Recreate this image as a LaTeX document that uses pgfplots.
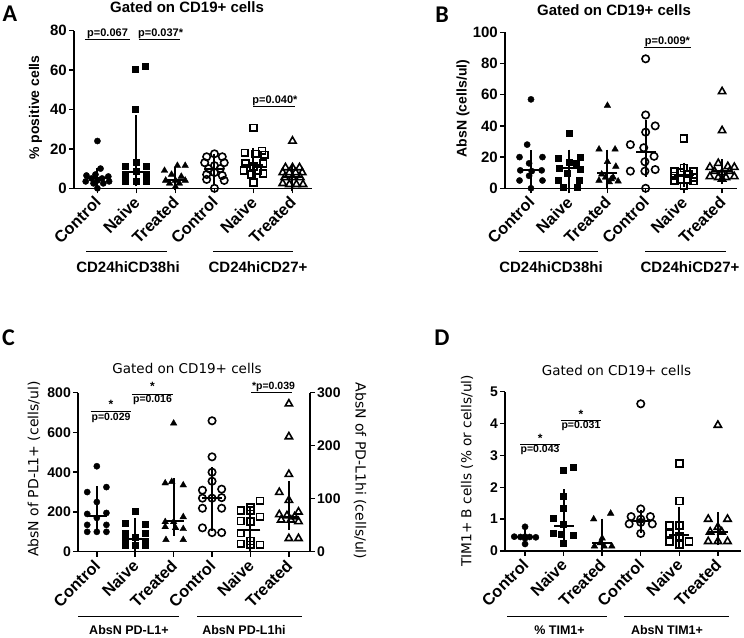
\documentclass[border=0pt]{standalone}
\usepackage{pgfplots}
\pgfplotsset{compat=1.18}
\usepackage{fontspec}
\setmainfont{Liberation Sans}
\newfontfamily\dejavu{DejaVu Sans}
\newfontfamily\carlito{Carlito}
\newcommand{\fsz}[1]{\fontsize{#1}{#1}\selectfont}

\pgfplotsset{
  gp/.style={
    scale only axis,
    anchor=south west,
    axis x line*=bottom,
    axis y line*=left,
    axis line style={-, line width=1.5pt},
    tick align=outside,
    major tick length=5pt,
    tick style={line width=1.5pt, black},
    xtick={0,...,5},
    xticklabels={Control,Naive,Treated,Control,Naive,Treated},
    xticklabel style={xshift=1.2pt, yshift=-5.4pt, rotate=45, anchor=east, font=\bfseries\fsz{16.3}, inner sep=1pt},
    yticklabel style={font=\bfseries\fsz{15}, inner sep=2pt},
    /pgf/number format/assume math mode=true,
    clip=false,
  },
  mFC/.style={only marks, mark=*, mark size=3.1pt, black},
  mFS/.style={only marks, mark=square*, mark size=3pt, black},
  mFT/.style={only marks, mark=triangle*, mark size=3.8pt, black},
  mOC/.style={only marks, mark=o, mark size=3.7pt, black, mark options={line width=1.6pt}},
  mOS/.style={only marks, mark=square, mark size=3.4pt, black, mark options={line width=1.6pt}},
  mOT/.style={only marks, mark=triangle, mark size=4.2pt, black, mark options={line width=1.6pt}},
  med/.style={only marks, black, mark=-, mark size=10pt, mark options={line width=2pt},
    error bars/.cd, y dir=both, y explicit,
    error bar style={line width=2pt, black},
    error mark=-, error mark options={line width=2pt, mark size=7pt, black}},
}

\begin{document}
\begin{tikzpicture}[x=1pt,y=1pt]

%================ Panel A ================
\begin{axis}[gp, at={(74pt,448.7pt)}, width=238pt, height=157.6pt,
  xmin=-0.6, xmax=5.5, ymin=0, ymax=80, ytick={0,20,40,60,80}]
\addplot[mFC] coordinates {(0,24) (0.08,10) (-0.05,7) (-0.28,6.5) (0.28,6) (-0.15,5) (0.12,5) (-0.3,3.5) (0,4) (0.3,3.5) (-0.1,2.5) (0.15,2.5) (0,0)};
\addplot[mFS] coordinates {(1.22,62) (0.98,60.5) (0.98,40) (1,13) (0.72,11) (1.25,11) (1.0,8.5) (0.72,7) (1.25,7) (0.72,3.5) (1.0,3.5) (1.25,3.5)};
\addplot[mFT] coordinates {(2.05,11.5) (2.25,11.5) (1.72,9) (1.9,7) (2.15,6) (1.75,4) (2.0,4) (2.25,4) (1.85,2.5) (2.1,2.5) (2.0,0.8)};
\addplot[mOC] coordinates {(3.0,17.5) (2.8,16) (3.2,16) (2.75,13) (3.25,13) (3.0,11.5) (2.85,10) (3.15,10) (3.0,8) (2.8,7) (3.2,6.5) (2.8,4.5) (3.25,4) (3.0,0)};
\addplot[mOS] coordinates {(4.0,30.7) (4.22,19) (3.78,18) (4.05,17.5) (4.28,17) (3.8,12.5) (4.25,12.5) (4.0,11) (3.75,9) (4.1,9) (4.25,7.5) (3.95,7) (4.0,3)};
\addplot[mOT] coordinates {(5.0,24) (4.82,10.5) (5.0,10.5) (5.18,10.5) (4.75,8) (4.92,8) (5.08,8) (5.25,8) (4.8,5.5) (5.0,5.5) (5.2,5.5) (4.75,2.5) (4.92,2) (5.1,2) (5.27,2)};
\addplot[med] coordinates {(0,5) += (0,2) -= (0,1.5) (1,8.5) += (0,25) -= (0,4) (2,4.2) += (0,3.3) -= (0,1.7) (3,10) += (0,4) -= (0,4.5) (4,12) += (0,5) -= (0,4) (5,5.5) += (0,3.5) -= (0,3.5)};
\draw[line width=1pt] (axis cs:-0.32,75.6) -- (axis cs:0.84,75.6);
\node[anchor=south, inner sep=0.5pt, font=\bfseries\fsz{11}] at (axis cs:0.26,75.6) {p=0.067};
\draw[line width=1pt] (axis cs:1.07,75.6) -- (axis cs:2.12,75.6);
\node[anchor=south, inner sep=0.5pt, font=\bfseries\fsz{11}] at (axis cs:1.62,75.6) {p=0.037*};
\draw[line width=1pt] (axis cs:3.99,41.3) -- (axis cs:5.07,41.3);
\node[anchor=south, inner sep=0.5pt, font=\bfseries\fsz{11}] at (axis cs:4.55,41.3) {p=0.040*};
\end{axis}

%================ Panel B ================
\begin{axis}[gp, at={(505pt,448.7pt)}, width=232pt, height=156pt,
  xmin=-0.68, xmax=5.39, ymin=0, ymax=100, ytick={0,20,40,60,80,100}]
\addplot[mFC] coordinates {(0,57) (-0.1,28) (-0.3,20) (0.3,20) (-0.05,16) (-0.28,11.5) (0.28,11.5) (0.02,11) (-0.05,8) (-0.3,5) (0.3,5) (0,0)};
\addplot[mFS] coordinates {(1.0,35) (0.72,19) (1.3,20) (1.0,17) (1.18,16) (0.75,13) (1.28,12.5) (0.95,9.5) (0.7,5.5) (1.25,5.5) (0.85,1) (1.22,1)};
\addplot[mFT] coordinates {(2.0,53) (1.78,25) (2.2,25) (2.0,17) (2.22,14) (1.85,9) (1.95,7) (2.15,7) (1.78,5) (2.28,4.5) (2.05,4) (2.1,6)};
\addplot[mOC] coordinates {(3.0,83) (3.0,47) (3.25,40) (3.0,36) (2.6,28) (2.95,26) (3.22,20.5) (2.98,17) (2.6,11) (2.98,11) (3.25,12) (3.0,0)};
\addplot[mOS] coordinates {(4.0,32) (4.0,13) (3.75,11) (4.25,11) (3.9,10) (4.12,9) (3.75,8) (4.25,7) (3.9,5.5) (4.1,5.5) (4.25,4.5) (3.75,5) (4.0,1.5)};
\addplot[mOT] coordinates {(5.0,62) (5.0,37) (4.9,16) (4.68,13.5) (5.32,13.5) (5.15,14) (4.8,11) (5.2,11) (5.0,10) (4.68,7.5) (4.9,7) (5.1,7) (5.32,7.5) (5.0,6)};
\addplot[med] coordinates {(0,11.8) += (0,8.1) -= (0,6.5) (1,12.8) += (0,7.5) -= (0,8.1) (2,9.6) += (0,10.7) -= (0,5.3) (3,23) += (0,16) -= (0,11.2) (4,8.5) += (0,3.5) -= (0,3.5) (5,11.3) += (0,2.7) -= (0,4.3)};
\draw[line width=1pt] (axis cs:2.96,90.1) -- (axis cs:4.19,90.1);
\node[anchor=south, inner sep=0.5pt, font=\bfseries\fsz{11}] at (axis cs:3.57,90.1) {p=0.009*};
\end{axis}

%================ Panel C ================
\begin{axis}[gp, at={(78pt,85.3pt)}, width=232pt, height=159pt,
  xmin=-0.49, xmax=5.55, ymin=0, ymax=800, ytick={0,200,400,600,800},
  yticklabel style={font=\bfseries\fsz{14}}]
\addplot[mFC] coordinates {(0,430) (-0.25,300) (0.25,325) (0.0,250) (-0.25,190) (0.25,195) (0.0,170) (-0.25,135) (0.25,135) (-0.25,100) (0.0,100) (0.25,100)};
\addplot[mFS] coordinates {(1.0,206) (0.75,145) (1.25,140) (0.75,95) (1.25,95) (1.0,75) (0.75,60) (1.25,55) (0.75,35) (1.0,35) (1.25,35)};
\addplot[mFT] coordinates {(2.0,646) (1.78,345) (1.95,352) (2.25,335) (2.25,175) (1.78,150) (2.0,150) (1.78,125) (2.05,120) (2.25,115) (1.8,60) (2.25,60)};
\addplot[med] coordinates {(0,180) += (0,115) -= (0,50) (1,65) += (0,70) -= (0,30) (2,155) += (0,180) -= (0,40)};
\draw[line width=1pt] (axis cs:-0.16,704) -- (axis cs:0.9,704);
\node[font=\bfseries\fsz{12}] at (axis cs:0.37,740) {*};
\node[anchor=north, inner sep=1pt, font=\bfseries\fsz{10.5}] at (axis cs:0.37,704) {p=0.029};
\draw[line width=1pt] (axis cs:0.91,793) -- (axis cs:1.98,793);
\node[font=\bfseries\fsz{12}] at (axis cs:1.45,830) {*};
\node[anchor=north, inner sep=1pt, font=\bfseries\fsz{10.5}] at (axis cs:1.45,793) {p=0.016};
\end{axis}
\begin{axis}[gp, at={(78pt,85.3pt)}, width=232pt, height=159pt,
  axis x line=none, axis y line*=right,
  xmin=-0.49, xmax=5.55, ymin=0, ymax=300, ytick={0,100,200,300},
  yticklabel style={font=\bfseries\fsz{14}}]
\addplot[mOC] coordinates {(3.0,247) (3.0,179) (3.0,150) (3.0,133) (2.75,116) (3.25,118) (2.75,101) (3.0,101) (3.25,102) (2.75,82) (3.25,82) (2.75,45) (3.0,36) (3.25,36)};
\addplot[mOS] coordinates {(4.25,96) (3.75,78) (4.0,84) (4.0,78) (4.25,66) (3.75,58) (4.0,57) (3.75,35) (3.75,15) (4.0,20) (4.0,13) (4.25,13)};
\addplot[mOT] coordinates {(5.0,279) (5.0,217) (5.0,146) (4.75,112) (5.0,97) (5.25,75) (4.75,70) (4.95,68) (5.15,66) (4.8,60) (5.05,60) (5.25,57) (5.0,25) (5.25,25)};
\addplot[med] coordinates {(3,101) += (0,46) -= (0,49) (4,40) += (0,33) -= (0,25) (5,65) += (0,55) -= (0,10)};
\draw[line width=1pt] (axis cs:4.02,300) -- (axis cs:5.09,300);
\node[anchor=south, inner sep=0.5pt, font=\bfseries\fsz{10.5}] at (axis cs:4.6,300) {*p=0.039};
\end{axis}

%================ Panel D ================
\begin{axis}[gp, at={(505pt,86pt)}, width=236pt, height=159.3pt,
  xmin=-0.52, xmax=5.6, ymin=0, ymax=5, ytick={0,1,2,3,4,5},
  yticklabel style={font=\bfseries\fsz{14}}]
\addplot[mFC] coordinates {(0,0.76) (-0.28,0.45) (-0.12,0.44) (0.0,0.45) (0.12,0.44) (0.28,0.43) (0.0,0.4) (0.0,0.22)};
\addplot[mFS] coordinates {(1.0,2.54) (1.25,2.62) (1.0,1.72) (1.0,1.34) (0.72,1.02) (1.0,0.85) (0.72,0.55) (0.95,0.52) (1.25,0.5) (1.0,0.26)};
\addplot[mFT] coordinates {(2.22,1.18) (1.78,1.0) (2.0,0.4) (1.95,0.25) (1.8,0.15) (2.05,0.15) (2.25,0.15)};
\addplot[mOC] coordinates {(3.0,4.62) (3.0,1.32) (2.75,1.08) (3.0,1.0) (3.25,1.08) (2.7,0.85) (3.0,0.9) (3.3,0.85) (3.0,0.55)};
\addplot[mOS] coordinates {(4.0,2.75) (4.0,1.57) (3.75,0.8) (4.0,0.8) (3.75,0.55) (4.0,0.45) (3.75,0.3) (4.0,0.2) (4.25,0.3)};
\addplot[mOT] coordinates {(5.0,3.95) (4.75,1.0) (5.25,1.0) (5.0,0.75) (4.8,0.6) (5.1,0.6) (4.75,0.3) (5.0,0.3) (5.25,0.3)};
\addplot[med] coordinates {(0,0.43) += (0,0.03) -= (0,0.03) (1,0.78) += (0,0.94) -= (0,0.28) (2,0.25) += (0,0.55) -= (0,0.1) (3,0.95) += (0,0.13) -= (0,0.15) (4,0.5) += (0,0.67) -= (0,0.15) (5,0.6) += (0,0.4) -= (0,0.2)};
\draw[line width=1pt] (axis cs:-0.13,3.35) -- (axis cs:0.91,3.35);
\node[font=\bfseries\fsz{12}] at (axis cs:0.39,3.55) {*};
\node[anchor=north, inner sep=1pt, font=\bfseries\fsz{10.5}] at (axis cs:0.39,3.35) {p=0.043};
\draw[line width=1pt] (axis cs:0.93,4.1) -- (axis cs:1.97,4.1);
\node[font=\bfseries\fsz{12}] at (axis cs:1.45,4.3) {*};
\node[anchor=north, inner sep=1pt, font=\bfseries\fsz{10.5}] at (axis cs:1.45,4.1) {p=0.031};
\end{axis}

%================ Texts ================
\node[font=\carlito\bfseries\fsz{24}] at (10,623) {A};
\node[font=\carlito\bfseries\fsz{24}] at (442,622) {B};
\node[font=\carlito\bfseries\fsz{24}] at (8.5,299) {C};
\node[font=\carlito\bfseries\fsz{24}] at (442,299) {D};

\node[font=\bfseries\fsz{15}] at (187,629.5) {Gated on CD19+ cells};
\node[font=\bfseries\fsz{15}] at (614,627) {Gated on CD19+ cells};
\node[font=\dejavu\fsz{13.5}] at (187,269) {Gated on CD19+ cells};
\node[font=\dejavu\fsz{13.5}] at (616.5,267) {Gated on CD19+ cells};

\node[rotate=90, font=\bfseries\fsz{14}] at (35.5,529.5) {\% positive cells};
\node[rotate=90, font=\bfseries\fsz{14}] at (463,528.5) {AbsN (cells/ul)};
\node[rotate=90, font=\dejavu\fsz{14}] at (34,168) {AbsN of PD-L1+ (cells/ul)};
\node[rotate=-90, font=\dejavu\fsz{14}] at (360,166) {AbsN of PD-L1hi (cells/ul)};
\node[rotate=90, font=\dejavu\fsz{13.7}] at (467,166) {TIM1+ B cells (\% or cells/ul)};

\draw[line width=1pt] (86,385) -- (167,385) (213,385) -- (293,385);
\draw[line width=1pt] (519,385) -- (598,385) (645,385) -- (726,385);
\draw[line width=1pt] (78,20) -- (179,20) (197,20) -- (302,20);
\draw[line width=1pt] (507,20) -- (607,20) (624,20) -- (729,20);

\node[font=\bfseries\fsz{15}] at (128,370) {CD24hiCD38hi};
\node[font=\bfseries\fsz{15}] at (258,370) {CD24hiCD27+};
\node[font=\bfseries\fsz{15}] at (551,370) {CD24hiCD38hi};
\node[font=\bfseries\fsz{15}] at (690,370) {CD24hiCD27+};
\node[font=\bfseries\fsz{12.5}] at (129,7) {AbsN PD-L1+};
\node[font=\bfseries\fsz{12.5}] at (244,7) {AbsN PD-L1hi};
\node[font=\bfseries\fsz{12.5}] at (559.5,7) {\% TIM1+};
\node[font=\bfseries\fsz{12.5}] at (667,7) {AbsN TIM1+};

\pgfresetboundingbox
\path[use as bounding box] (0,0) rectangle (744,637);
\end{tikzpicture}
\end{document}
